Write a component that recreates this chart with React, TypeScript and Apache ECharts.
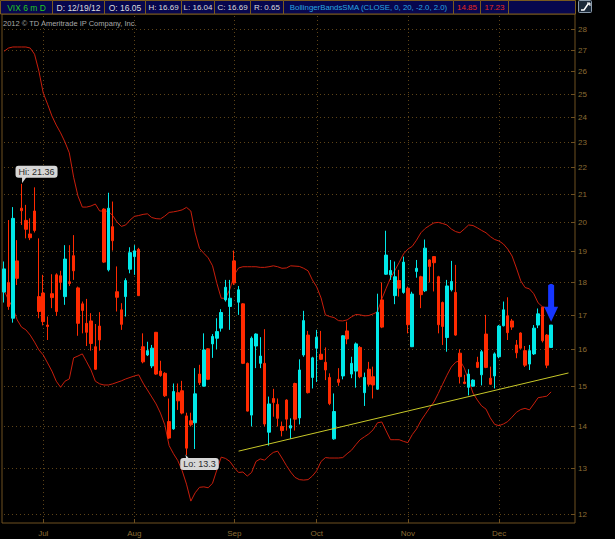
import React, { useEffect, useRef } from 'react';
import * as echarts from 'echarts';

const dates = [
'2012-06-19','2012-06-20','2012-06-21','2012-06-22','2012-06-25','2012-06-26','2012-06-27','2012-06-28','2012-06-29',
'2012-07-02','2012-07-03','2012-07-05','2012-07-06','2012-07-09','2012-07-10','2012-07-11','2012-07-12','2012-07-13','2012-07-16','2012-07-17','2012-07-18','2012-07-19','2012-07-20','2012-07-23','2012-07-24','2012-07-25','2012-07-26','2012-07-27','2012-07-30','2012-07-31',
'2012-08-01','2012-08-02','2012-08-03','2012-08-06','2012-08-07','2012-08-08','2012-08-09','2012-08-10','2012-08-13','2012-08-14','2012-08-15','2012-08-16','2012-08-17','2012-08-20','2012-08-21','2012-08-22','2012-08-23','2012-08-24','2012-08-27','2012-08-28','2012-08-29','2012-08-30','2012-08-31',
'2012-09-04','2012-09-05','2012-09-06','2012-09-07','2012-09-10','2012-09-11','2012-09-12','2012-09-13','2012-09-14','2012-09-17','2012-09-18','2012-09-19','2012-09-20','2012-09-21','2012-09-24','2012-09-25','2012-09-26','2012-09-27','2012-09-28',
'2012-10-01','2012-10-02','2012-10-03','2012-10-04','2012-10-05','2012-10-08','2012-10-09','2012-10-10','2012-10-11','2012-10-12','2012-10-15','2012-10-16','2012-10-17','2012-10-18','2012-10-19','2012-10-22','2012-10-23','2012-10-24','2012-10-25','2012-10-26','2012-10-31',
'2012-11-01','2012-11-02','2012-11-05','2012-11-06','2012-11-07','2012-11-08','2012-11-09','2012-11-12','2012-11-13','2012-11-14','2012-11-15','2012-11-16','2012-11-19','2012-11-20','2012-11-21','2012-11-23','2012-11-26','2012-11-27','2012-11-28','2012-11-29','2012-11-30',
'2012-12-03','2012-12-04','2012-12-05','2012-12-06','2012-12-07','2012-12-10','2012-12-11','2012-12-12','2012-12-13','2012-12-14','2012-12-17','2012-12-18','2012-12-19'];

const opens = [
17.68,17.98,16.89,18.67,20.47,20.04,19.57,20.37,17.54,17.65,
16.69,17.63,18.22,18.19,17.54,18.00,18.84,17.81,17.32,16.74,
16.81,16.07,16.66,20.44,18.38,19.82,17.69,17.14,17.54,18.40,
18.81,19.05,16.07,15.84,15.54,16.48,15.40,15.34,14.10,13.92,
14.83,14.88,14.24,14.12,14.07,15.32,15.00,16.01,16.15,16.31,
16.60,17.44,17.24,18.67,17.37,17.32,15.61,14.26,16.09,15.61,
15.61,13.84,14.68,14.53,13.98,14.64,13.94,15.07,14.19,15.84,
16.40,15.23,16.03,15.86,15.64,15.23,13.68,15.18,15.27,16.52,
15.32,15.40,16.05,14.83,15.45,15.25,14.92,17.44,18.24,18.22,
17.57,18.04,17.67,17.80,16.07,18.33,18.16,17.72,18.70,18.81,
18.16,17.36,16.33,17.75,17.67,15.89,15.11,14.97,15.00,15.64,
15.30,16.43,15.21,15.27,15.79,16.67,16.96,16.81,16.12,16.46,
15.96,15.59,15.87,16.69,17.22,16.40,16.05];

const closes = [
18.41,17.24,20.11,18.11,20.38,19.73,19.44,19.69,17.09,16.79,
16.65,17.51,17.09,17.98,18.73,17.95,18.35,16.74,17.12,16.48,
16.16,15.45,16.26,18.63,20.47,19.34,17.52,16.71,18.04,18.94,
19.00,17.57,15.65,15.96,16.03,15.32,15.28,14.75,13.70,14.86,
14.62,14.31,13.46,14.02,14.80,15.09,15.98,15.18,16.36,16.50,
17.06,17.83,17.49,17.96,17.75,15.61,14.36,16.31,16.43,15.81,
14.04,14.54,14.58,14.18,13.88,14.16,14.00,14.16,15.43,16.82,
14.83,15.76,16.34,15.72,15.43,14.55,14.35,15.10,16.38,16.29,
15.61,16.15,15.25,15.23,15.05,15.03,17.07,16.63,18.86,18.36,
18.16,17.80,18.63,16.70,17.62,18.43,17.60,19.09,18.49,18.61,
16.70,16.65,17.87,18.01,16.40,15.25,15.07,15.32,15.16,15.50,
15.93,15.50,15.05,15.87,16.66,17.14,16.47,16.63,15.90,16.03,
15.56,15.96,16.60,17.02,16.24,15.56,16.69];

const highs = [
18.65,20.05,20.51,19.36,21.36,20.59,20.11,21.23,19.42,18.22,
16.94,18.24,18.27,18.35,19.19,19.19,19.53,17.85,17.39,17.47,
17.04,16.72,17.07,20.47,21.03,20.71,18.49,17.34,18.11,19.12,
19.19,19.10,16.45,16.21,16.12,16.49,15.68,15.37,14.68,15.07,
15.07,15.14,14.32,14.32,15.48,15.57,16.45,16.03,16.43,16.89,
17.16,18.06,18.06,19.01,17.87,17.34,15.63,16.36,16.45,16.34,
16.57,14.73,14.93,14.68,14.10,14.66,14.18,15.09,15.72,17.11,
16.52,15.79,16.55,16.52,16.05,15.34,14.81,15.48,16.40,16.79,
15.79,16.19,16.09,15.36,15.65,15.52,17.63,17.98,19.68,18.70,
18.65,18.38,18.81,17.85,17.69,18.70,18.19,19.38,18.72,18.83,
18.19,17.39,18.06,18.67,18.54,16.00,15.30,15.45,15.18,15.79,
15.98,16.99,15.52,15.91,16.69,17.39,17.52,16.87,16.26,16.48,
16.09,16.12,16.69,17.18,17.22,16.43,16.69];

const lows = [
17.36,17.14,16.76,17.90,19.88,19.42,19.36,19.62,16.89,16.68,
16.26,17.19,16.96,17.75,17.29,17.87,18.06,16.38,16.45,16.09,
15.96,15.43,15.96,18.60,18.33,19.01,17.09,16.55,16.94,18.27,
18.22,17.56,15.61,15.81,15.48,15.30,15.25,14.72,13.68,13.90,
14.39,14.28,13.30,13.98,13.44,15.03,14.99,15.16,15.76,16.00,
16.50,17.39,16.55,17.90,16.99,15.59,14.35,13.98,15.48,15.48,
13.98,13.52,14.22,13.98,13.74,13.88,13.68,13.88,14.03,15.79,
14.81,14.94,15.11,15.70,15.16,14.51,13.66,15.01,15.18,16.14,
15.21,14.96,15.21,14.49,15.00,14.68,14.90,16.60,18.22,18.06,
17.31,17.54,17.63,16.45,16.06,18.13,17.19,17.68,17.98,17.70,
16.45,16.12,15.93,17.70,16.38,15.07,15.05,14.76,14.98,15.48,
15.02,15.48,15.03,14.94,15.75,16.65,16.26,16.55,15.75,16.01,
15.51,15.43,15.84,16.60,16.19,15.48,16.04];

const upperBand = [
26.93,27.08,27.13,27.13,27.13,27.13,27.08,26.79,26.01,25.03,
24.55,24.05,23.67,23.35,22.98,22.55,21.61,20.91,20.51,20.51,
20.55,20.62,20.37,20.37,20.36,20.21,19.98,19.83,19.88,20.05,
20.18,20.21,20.25,20.27,20.14,20.10,20.09,20.19,20.32,20.34,
20.37,20.41,20.50,20.37,19.61,19.08,18.92,18.77,18.51,17.95,
17.49,17.49,17.77,18.22,18.44,18.48,18.48,18.48,18.48,18.46,
18.46,18.48,18.51,18.48,18.43,18.44,18.51,18.50,18.49,18.43,
18.35,18.06,17.84,17.50,16.99,16.94,16.91,16.82,16.81,16.84,
16.93,17.00,16.99,16.96,16.97,17.02,17.08,17.47,17.80,18.12,
18.36,18.62,18.90,19.06,19.15,19.36,19.61,19.76,19.86,19.95,
19.97,19.93,19.88,19.74,19.65,19.61,19.74,19.88,19.86,19.78,
19.69,19.61,19.48,19.38,19.33,19.23,19.06,18.83,18.44,18.03,
17.82,17.78,17.63,17.35,17.23,17.20,17.23];

const lowerBand = [
17.72,17.44,17.20,16.84,16.63,16.55,16.40,16.20,15.98,15.84,
15.62,15.40,15.13,14.97,15.13,15.19,15.76,15.81,15.87,15.65,
15.43,15.13,15.06,15.03,15.03,15.06,15.10,15.14,15.19,15.23,
15.27,15.30,15.08,14.90,14.72,14.54,14.31,14.02,13.52,13.33,
13.17,12.94,12.64,12.27,12.45,12.57,12.58,12.56,12.66,12.96,
13.25,13.22,13.15,13.01,12.90,12.91,12.82,12.90,13.15,13.21,
13.18,13.28,13.36,13.39,13.23,13.06,12.91,12.79,12.74,12.73,
12.74,12.82,12.94,13.15,13.24,13.23,13.23,13.23,13.24,13.33,
13.41,13.54,13.66,13.73,13.80,13.90,14.07,14.09,13.87,13.66,
13.66,13.66,13.62,13.59,13.78,13.92,14.12,14.28,14.44,14.59,
14.81,15.05,15.29,15.51,15.64,15.69,15.48,15.16,14.82,14.64,
14.49,14.41,14.19,14.03,14.00,14.04,14.10,14.21,14.33,14.40,
14.43,14.39,14.54,14.70,14.72,14.74,14.85];

const yTicks = [12,13,14,15,16,17,18,19,20,21,22,23,24,25,26,27,28];
const monthNames = ['Jan','Feb','Mar','Apr','May','Jun','Jul','Aug','Sep','Oct','Nov','Dec'];
const trendStart = { index: 54, value: 13.39 };
const trendEnd = { index: 130, value: 15.35 };
const arrowValue = 17.35;
const Y_MIN = 11.81;
const Y_MAX = 28.74;
const PAD = 5;

const FONT = '"Liberation Sans", Arial, sans-serif';
const BORDER = '#6e5020';
const GRIDC = '#5e4418';
const LABELC = '#8c6c34';
const UP = '#00e8e8';
const DOWN = '#ff2a00';
const BAND = '#c81e0c';

export default function App() {
  const ref = useRef<HTMLDivElement>(null);
  useEffect(() => {
    if (!ref.current) return;
    const chart = echarts.init(ref.current, undefined, { renderer: 'svg' });
    const N = dates.length;
    const cats = [...dates, ...Array.from({ length: PAD }, (_, k) => `pad${k}`)];
    const isMonthStart = (i: number) => i > 0 && i < N && dates[i].slice(5, 7) !== dates[i - 1].slice(5, 7);
    const monthIdx: number[] = [];
    for (let i = 0; i < N; i++) if (isMonthStart(i)) monthIdx.push(i);
    const L = Math.log;
    const last = N - 1;
    const hi = Math.max(...highs);
    const lo = Math.min(...lows);
    const hiIdx = highs.indexOf(hi);
    const loIdx = lows.indexOf(lo);
    const lastUpper = upperBand[last];
    const lastLower = lowerBand[last];
    const d = dates[last];
    const dateStr = `${d.slice(5, 7)}/${d.slice(8, 10)}/${d.slice(2, 4)}`;
    const range = (highs[last] - lows[last]).toFixed(2);

    const segs = [
      { x0: 0, x1: 52, text: 'VIX 6 m D', color: '#22c822', size: 8.5 },
      { x0: 52, x1: 104, text: `D: ${dateStr}`, color: '#dcdcdc', size: 8.5 },
      { x0: 104, x1: 145, text: `O: ${opens[last].toFixed(2)}`, color: '#dcdcdc', size: 8.5 },
      { x0: 145, x1: 181, text: `H: ${highs[last].toFixed(2)}`, color: '#dcdcdc', size: 8 },
      { x0: 181, x1: 214, text: `L: ${lows[last].toFixed(2)}`, color: '#dcdcdc', size: 8 },
      { x0: 214, x1: 250, text: `C: ${closes[last].toFixed(2)}`, color: '#dcdcdc', size: 8 },
      { x0: 250, x1: 283, text: `R: ${range}`, color: '#dcdcdc', size: 8 },
      { x0: 283, x1: 453, text: 'BollingerBandsSMA (CLOSE, 0, 20, -2.0, 2.0)', color: '#2aa6e0', size: 7.8 },
      { x0: 453, x1: 480, text: lastLower.toFixed(2), color: '#e8281e', size: 8 },
      { x0: 480, x1: 508, text: lastUpper.toFixed(2), color: '#e8281e', size: 8 },
      { x0: 508, x1: 575, text: '', color: '#dcdcdc', size: 8 },
    ];
    const headerChildren: any[] = [];
    segs.forEach((s) => {
      headerChildren.push({ type: 'rect', shape: { x: s.x0 + 0.5, y: 0.5, width: s.x1 - s.x0, height: 13.5 }, style: { fill: '#07074e', stroke: '#7a5a1e', lineWidth: 1 } });
      if (s.text) headerChildren.push({ type: 'text', x: (s.x0 + s.x1) / 2 + 0.5, y: 7.5, style: { text: s.text, fill: s.color, fontSize: s.size, fontFamily: FONT, align: 'center', verticalAlign: 'middle' } });
    });
    headerChildren.push({ type: 'rect', shape: { x: 578.5, y: 0.5, width: 13, height: 12, r: 1 }, style: { fill: '#1c2a3a', stroke: '#8a9aaa', lineWidth: 1 } });
    headerChildren.push({ type: 'polyline', shape: { points: [[581, 10], [584, 10], [588, 4], [590, 4]] }, style: { stroke: '#ffffff', lineWidth: 1.5, fill: 'none' } });
    headerChildren.push({ type: 'polyline', shape: { points: [[587, 3], [590, 3], [590, 6]] }, style: { stroke: '#ffffff', lineWidth: 1, fill: 'none' } });
    headerChildren.push({ type: 'text', x: 3, y: 23, style: { text: '2012 \u00a9 TD Ameritrade IP Company, Inc.', fill: '#a8a8a8', fontSize: 7.5, fontFamily: FONT, verticalAlign: 'middle' } });

    const bubble = (text: string, offset: number[]) => ({
      show: true, position: 'inside', offset, formatter: text, backgroundColor: '#d6d6d6', borderRadius: 3,
      padding: [2, 3, 1, 3], color: '#2a2a2a', fontSize: 9, fontFamily: FONT,
    });
    const priceTag = (text: string, bg: string, fg: string) => ({
      show: true, position: 'end', distance: 3, formatter: text, backgroundColor: bg, color: fg,
      padding: [1, 2, 0, 2], borderRadius: 2, fontSize: 9, fontFamily: FONT,
    });
    const hidden = { color: 'rgba(0,0,0,0)' };

    const option: any = {
      animation: false,
      backgroundColor: '#000000',
      grid: { left: 2, right: 40, top: 14, bottom: 16, show: true, borderColor: BORDER, borderWidth: 1, backgroundColor: '#000' },
      xAxis: {
        type: 'category', data: cats, boundaryGap: true,
        axisLine: { show: false },
        axisTick: { show: true, inside: true, length: 4, alignWithLabel: true, interval: (i: number) => isMonthStart(i), lineStyle: { color: BORDER } },
        axisLabel: { interval: (i: number) => isMonthStart(i), formatter: (v: string) => monthNames[parseInt(v.slice(5, 7), 10) - 1], color: LABELC, fontSize: 8, fontFamily: FONT, margin: 6 },
        splitLine: { show: false },
      },
      yAxis: {
        type: 'value', position: 'right', min: L(Y_MIN), max: L(Y_MAX), scale: true,
        axisLine: { show: false }, axisTick: { show: false }, axisLabel: { show: false }, splitLine: { show: false },
      },
      graphic: [{ type: 'group', children: headerChildren, z: 100 }],
      series: [
        {
          type: 'custom', z: 1, silent: true,
          data: yTicks.map((t) => [0, L(t), t]),
          encode: { x: 0, y: 1 },
          renderItem: (params: any, api: any) => {
            const cs = params.coordSys;
            const y = Math.round(api.coord([0, api.value(1)])[1]) + 0.5;
            const right = cs.x + cs.width;
            return {
              type: 'group', children: [
                { type: 'line', shape: { x1: cs.x + 2, y1: y, x2: right - 6, y2: y }, style: { stroke: GRIDC, lineWidth: 1, lineDash: [1, 3] } },
                { type: 'line', shape: { x1: right - 4, y1: y, x2: right, y2: y }, style: { stroke: BORDER, lineWidth: 1 } },
                { type: 'text', x: right + 3, y, style: { text: String(api.value(2)), fill: LABELC, fontSize: 8, fontFamily: FONT, verticalAlign: 'middle', align: 'left' } },
              ],
            };
          },
        },
        {
          type: 'custom', z: 1, silent: true,
          data: monthIdx.map((i) => [i, L(Y_MIN)]),
          encode: { x: 0, y: 1 },
          renderItem: (params: any, api: any) => {
            const cs = params.coordSys;
            const x = Math.round(api.coord([api.value(0), api.value(1)])[0]) + 0.5;
            return { type: 'line', shape: { x1: x, y1: cs.y + 2, x2: x, y2: cs.y + cs.height - 5 }, style: { stroke: GRIDC, lineWidth: 1, lineDash: [1, 3] } };
          },
        },
        {
          type: 'line', z: 2, data: upperBand.map(L), showSymbol: false, symbol: 'none',
          lineStyle: { color: BAND, width: 1 }, silent: true,
          markLine: { silent: true, symbol: ['none', 'none'], lineStyle: { width: 0, opacity: 0 }, data: [{ yAxis: L(lastUpper), label: priceTag(lastUpper.toFixed(2), '#ff2a0a', '#ffffff') }] },
        },
        {
          type: 'line', z: 2, data: lowerBand.map(L), showSymbol: false, symbol: 'none',
          lineStyle: { color: BAND, width: 1 }, silent: true,
          markLine: { silent: true, symbol: ['none', 'none'], lineStyle: { width: 0, opacity: 0 }, data: [{ yAxis: L(lastLower), label: priceTag(lastLower.toFixed(2), '#ff2a0a', '#ffffff') }] },
        },
        {
          type: 'candlestick', z: 3, barWidth: 3,
          data: dates.map((_, i) => [L(opens[i]), L(closes[i]), L(lows[i]), L(highs[i])]),
          itemStyle: { color: UP, color0: DOWN, borderColor: UP, borderColor0: DOWN, borderWidth: 1 },
          markLine: {
            silent: true, symbol: ['none', 'none'],
            data: [
              [
                { coord: [trendStart.index, L(trendStart.value)], lineStyle: { color: '#c8c828', width: 1, type: 'solid' }, label: { show: false } },
                { coord: [trendEnd.index, L(trendEnd.value)] },
              ],
              { yAxis: L(closes[last]), lineStyle: { width: 0, opacity: 0 }, label: priceTag(closes[last].toFixed(2), '#00e4e4', '#0a4848') },
            ],
          },
          markPoint: {
            silent: true,
            data: [
              { coord: [hiIdx, L(hi)], symbol: 'path://M0,0 L5,0 L0,7 Z', symbolSize: [5, 7], symbolOffset: [3, -4], itemStyle: { color: '#d6d6d6' }, label: { show: false } },
              { coord: [loIdx, L(lo)], symbol: 'path://M0,0 L6,7 L1,7 Z', symbolSize: [6, 7], symbolOffset: [2, 3], itemStyle: { color: '#d6d6d6' }, label: { show: false } },
              { coord: [hiIdx, L(hi)], symbol: 'circle', symbolSize: 1, itemStyle: hidden, label: bubble(`Hi: ${hi}`, [15, -12]) },
              { coord: [loIdx, L(lo)], symbol: 'circle', symbolSize: 1, itemStyle: hidden, label: bubble(`Lo: ${lo}`, [13, 9]) },
              {
                coord: [last, L(arrowValue)], symbol: 'path://M4,2 Q7,-1 10,2 L10,23 L14,23 L7,38 L0,23 L4,23 Z',
                symbolSize: [14, 38], itemStyle: { color: '#1636ff' }, label: { show: false },
              },
            ],
          },
        },
      ],
    };
    chart.setOption(option);
    return () => chart.dispose();
  }, []);
  return <div ref={ref} style={{ position: 'fixed', left: 0, top: 0, width: 615, height: 539, background: '#000' }} />;
}
